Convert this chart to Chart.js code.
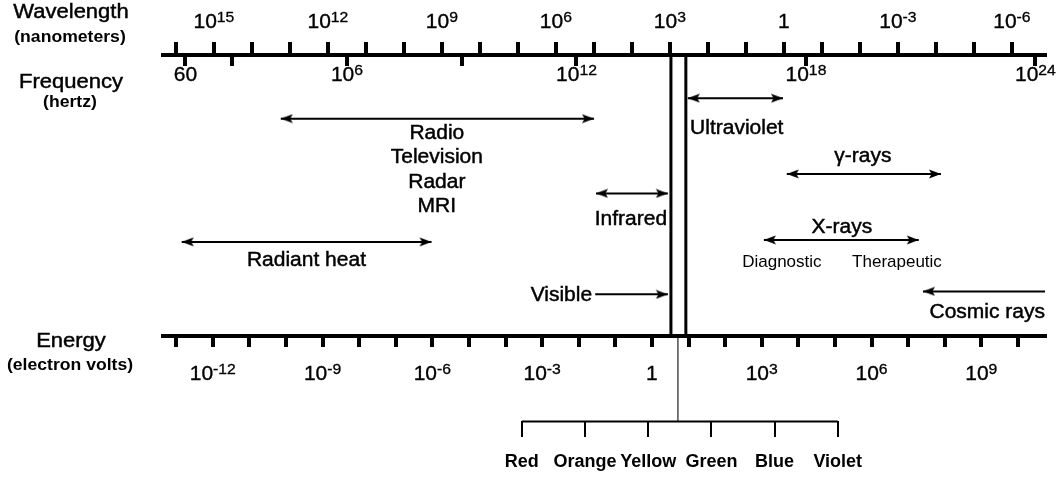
<!DOCTYPE html>
<html>
<head>
<meta charset="utf-8">
<title>Electromagnetic spectrum</title>
<script src="https://cdn.jsdelivr.net/npm/chart.js@4.4.1/dist/chart.umd.min.js"></script>
<style>
  html, body { margin: 0; padding: 0; background: #fff; }
  #wrap { width: 1057px; height: 478px; }
</style>
</head>
<body>
<div id="wrap"><canvas id="spectrum" width="1057" height="478"></canvas></div>
<script>
/* global Chart */

// Electromagnetic spectrum diagram. The main x scale is log10(frequency in Hz);
// wavelength and energy get their own x scales drawn on the same canvas.

const FONT = "'Liberation Sans', Arial, sans-serif";

// rows of the diagram, counted from the top (the y scale is reversed)
const ROW_TOP_AXIS = 49;
const ROW_ENERGY_AXIS = 339;
const ROW_LADDER = 427;

// axis ticks (log10 of the unit) and the labelled values
const WAVELENGTH_TICKS = [16, 15, 14, 13, 12, 11, 10, 9, 8, 7, 6, 5, 4, 3, 2, 1, 0, -1, -2, -3, -4, -5, -6];
const WAVELENGTH_LABELS = [1e15, 1e12, 1e9, 1e6, 1e3, 1, 1e-3, 1e-6];
const FREQUENCY_TICKS = [1.778, 3, 6, 9, 12, 18, 24];
const FREQUENCY_LABELS = [60, 1e6, 1e12, 1e18, 1e24];
const ENERGY_TICKS = [-13, -12, -11, -10, -9, -8, -7, -6, -5, -4, -3, -2, -1, 0, 1, 2, 3, 4, 5, 6, 7, 8, 9, 10];
const ENERGY_LABELS = [1e-12, 1e-9, 1e-6, 1e-3, 1, 1e3, 1e6, 1e9];

const AXIS_TITLES = ["Wavelength", "Frequency", "Energy"];
const AXIS_UNITS = ["(nanometers)", "(hertz)", "(electron volts)"];

// bands as arrows, in log10 Hz
const BAND_NAMES = ["Radio", "Radiant heat", "Infrared", "Visible", "Ultraviolet", "γ-rays", "X-rays", "Cosmic rays"];
const BAND_FROM = [4.27, 1.68, 12.51, 12.49, 14.91, 17.5, 16.9, 21.06];
const BAND_TO = [12.46, 8.21, 14.39, 14.39, 17.4, 21.53, 20.95, 24.3];
const BAND_ROWS = [115, 242, 192, 296, 94, 172, 240, 293];
const BAND_HEADS = ["both", "both", "both", "to", "both", "both", "both", "from"];

// text beside the arrows
const NOTE_TEXT = ["Radio", "Television", "Radar", "MRI", "Radiant heat", "Infrared", "Visible",
  "Ultraviolet", "γ-rays", "X-rays", "Cosmic rays"];
const NOTE_LOG_HZ = [8.35, 8.35, 8.35, 8.35, 4.94, 14.37, 12.41, 14.97, 19.49, 18.94, 24.25];
const NOTE_ROWS = [136, 161, 186, 211, 267, 225, 303, 131, 160, 233, 320];
const NOTE_ALIGN = ["center", "center", "center", "center", "center", "right", "right",
  "left", "center", "center", "right"];

const XRAY_USES = ["Diagnostic", "Therapeutic"];
const XRAY_USE_LOG_HZ = [17.37, 20.38];
const XRAY_USE_ROW = 268;

// edges of the visible band
const VISIBLE_EDGES = [14.47, 14.86];

const COLOR_NAMES = ["Red", "Orange", "Yellow", "Green", "Blue", "Violet"];
const VISIBLE_LINK = 2.47;

const TITLE_STYLE = { size: 20, weight: "normal", stretch: 1.1, stroke: 0.45 };
const UNIT_STYLE = { size: 16, weight: "bold", stretch: 1.1, stroke: 0 };
const TICK_STYLE = { size: 20, weight: "normal", stretch: 1.05, stroke: 0.35 };
const SUP_STYLE = { size: 15, weight: "normal", stretch: 1.05, stroke: 0.3 };
const NOTE_STYLE = { size: 20, weight: "normal", stretch: 1.05, stroke: 0.45 };
const SMALL_STYLE = { size: 17, weight: "normal", stretch: 1.0, stroke: 0 };

function makeArrowHead() {
  // tip sits in the middle of the canvas so it lands on the data point
  const c = document.createElement("canvas");
  c.width = 26;
  c.height = 10;
  const g = c.getContext("2d");
  g.fillStyle = "#000";
  g.beginPath();
  g.moveTo(1, 0.5);
  g.lineTo(13, 5);
  g.lineTo(1, 9.5);
  g.lineTo(3.5, 5);
  g.closePath();
  g.fill();
  return c;
}

const ARROW_HEAD = makeArrowHead();

function drawText(ctx, text, x, y, style, align) {
  ctx.save();
  ctx.font = `${style.weight} ${style.size}px ${FONT}`;
  ctx.fillStyle = "#000";
  ctx.strokeStyle = "#000";
  ctx.textAlign = align || "center";
  ctx.textBaseline = "alphabetic";
  ctx.translate(x, y);
  ctx.scale(style.stretch, 1);
  ctx.fillText(text, 0, 0);
  if (style.stroke) {
    ctx.lineWidth = style.stroke;
    ctx.strokeText(text, 0, 0);
  }
  ctx.restore();
}

function textWidth(ctx, text, style) {
  ctx.save();
  ctx.font = `${style.weight} ${style.size}px ${FONT}`;
  const w = ctx.measureText(text).width * style.stretch;
  ctx.restore();
  return w;
}

function drawPowerLabel(ctx, value, x, baseline) {
  const exp = Math.round(Math.log10(value));
  const isPower = Math.abs(value / Math.pow(10, exp) - 1) < 1e-9;

  if (!isPower || exp === 0) {
    drawText(ctx, isPower ? "1" : String(value), x, baseline, TICK_STYLE, "center");
    return;
  }

  const baseW = textWidth(ctx, "10", TICK_STYLE);
  const supW = textWidth(ctx, String(exp), SUP_STYLE);
  const left = x - (baseW + supW) / 2;
  drawText(ctx, "10", left, baseline, TICK_STYLE, "left");
  drawText(ctx, String(exp), left + baseW, baseline - 6.5, SUP_STYLE, "left");
}

const labelsPlugin = {
  id: "spectrumLabels",
  afterDraw(chart) {
    const { ctx, scales } = chart;
    const yPx = (row) => scales.y.getPixelForValue(row);

    // axis names on the left
    const titleRows = [18, 88, 347];
    const unitRows = [42, 107, 370];
    AXIS_TITLES.forEach((title, i) => {
      drawText(ctx, title, 71, titleRows[i], TITLE_STYLE, "center");
      drawText(ctx, AXIS_UNITS[i], 70, unitRows[i], UNIT_STYLE, "center");
    });

    WAVELENGTH_LABELS.forEach((v) => {
      drawPowerLabel(ctx, v, scales.xW.getPixelForValue(Math.log10(v)), 28);
    });
    FREQUENCY_LABELS.forEach((v) => {
      drawPowerLabel(ctx, v, scales.x.getPixelForValue(Math.log10(v)), 81);
    });
    ENERGY_LABELS.forEach((v) => {
      drawPowerLabel(ctx, v, scales.xE.getPixelForValue(Math.log10(v)), 380);
    });

    NOTE_TEXT.forEach((text, i) => {
      drawText(ctx, text, scales.x.getPixelForValue(NOTE_LOG_HZ[i]), yPx(NOTE_ROWS[i]), NOTE_STYLE, NOTE_ALIGN[i]);
    });
    XRAY_USES.forEach((text, i) => {
      drawText(ctx, text, scales.x.getPixelForValue(XRAY_USE_LOG_HZ[i]), yPx(XRAY_USE_ROW), SMALL_STYLE, "center");
    });
  },
};

function segment(x0, x1, y0, y1, width, extra) {
  return Object.assign(
    {
      data: [{ x: x0, y: y0 }, { x: x1, y: y1 }],
      showLine: true,
      borderColor: "#000",
      borderWidth: width,
      pointRadius: 0,
      pointHoverRadius: 0,
      xAxisID: "x",
      yAxisID: "y",
    },
    extra || {}
  );
}

const datasets = [];

BAND_NAMES.forEach((name, i) => {
  const heads = BAND_HEADS[i];
  datasets.push(
    segment(BAND_FROM[i], BAND_TO[i], BAND_ROWS[i], BAND_ROWS[i], 2, {
      label: name,
      pointStyle: ARROW_HEAD,
      pointRotation: [180, 0],
      pointRadius: [heads === "to" ? 0 : 5, heads === "from" ? 0 : 5],
      pointBackgroundColor: "#000",
    })
  );
});

VISIBLE_EDGES.forEach((edge) => {
  datasets.push(segment(edge, edge, ROW_TOP_AXIS, ROW_ENERGY_AXIS, 3));
});

// zoomed-in ladder of visible colours
datasets.push(segment(0, COLOR_NAMES.length - 1, ROW_LADDER, ROW_LADDER, 2, { xAxisID: "xC" }));
datasets.push(
  segment(VISIBLE_LINK, VISIBLE_LINK, ROW_ENERGY_AXIS + 2, ROW_LADDER, 1.3, { xAxisID: "xC", borderColor: "#333" })
);

const flatten = (scale) => {
  scale.height = 0;
};

function tickAxis(extra) {
  return Object.assign(
    {
      type: "linear",
      axis: "x",
      afterFit: flatten,
      border: { display: true, width: 4, color: "#000" },
      grid: { drawOnChartArea: false, drawTicks: true, tickLength: 9, lineWidth: 4, color: "#000" },
      ticks: { display: false },
    },
    extra
  );
}

new Chart(document.getElementById("spectrum"), {
  type: "scatter",
  data: { datasets },
  options: {
    responsive: false,
    animation: false,
    events: [],
    layout: { padding: { left: 163, right: 12, top: 0, bottom: 0 } },
    plugins: { legend: { display: false }, tooltip: { enabled: false } },
    scales: {
      y: { type: "linear", display: false, min: 0, max: 478, reverse: true },
      // frequency, log10 Hz
      x: tickAxis({
        position: { y: ROW_TOP_AXIS },
        min: 1.19,
        max: 24.25,
        afterBuildTicks: (s) => {
          s.ticks = FREQUENCY_TICKS.map((v) => ({ value: v }));
        },
      }),
      // wavelength, log10 nm, ticks pointing up
      xW: tickAxis({
        position: { y: ROW_TOP_AXIS },
        reverse: true,
        min: -6.87,
        max: 16.34,
        border: { display: false },
        grid: { drawOnChartArea: false, drawTicks: true, tickLength: -13, lineWidth: 4, color: "#000" },
        afterBuildTicks: (s) => {
          s.ticks = WAVELENGTH_TICKS.map((v) => ({ value: v }));
        },
      }),
      // energy, log10 eV
      xE: tickAxis({
        position: { y: ROW_ENERGY_AXIS },
        min: -13.36,
        max: 10.74,
        afterBuildTicks: (s) => {
          s.ticks = ENERGY_TICKS.map((v) => ({ value: v }));
        },
      }),
      // colour ladder
      xC: tickAxis({
        position: { y: ROW_LADDER },
        min: -5.68,
        max: 8.28,
        border: { display: false },
        grid: { drawOnChartArea: false, drawTicks: true, tickLength: 16, lineWidth: 2, color: "#000" },
        ticks: {
          display: true,
          autoSkip: false,
          maxRotation: 0,
          padding: 14,
          color: "#000",
          font: { family: FONT, size: 18, weight: "bold" },
          callback: (value) => COLOR_NAMES[value],
        },
        afterBuildTicks: (s) => {
          s.ticks = COLOR_NAMES.map((_, i) => ({ value: i }));
        },
      }),
    },
  },
  plugins: [labelsPlugin],
});
</script>
</body>
</html>
